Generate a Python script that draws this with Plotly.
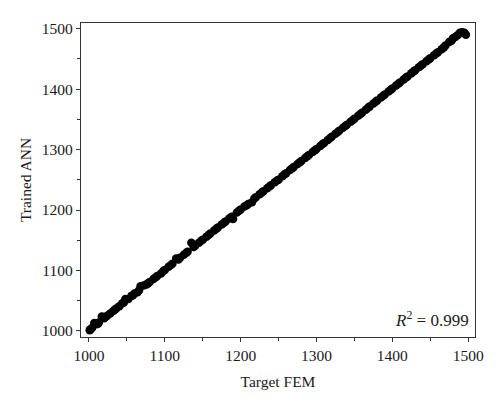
import plotly.graph_objects as go

target_fem = [1001,1004,1007,1010,1013,1017,1020,1024,1028,1032,1036,1040,1044,1048,1052,1056,1060,1064,1068,1072,
              1076,1080,1085,1090,1095,1100,1105,1110,1115,1120,1125,1130,1135,1140,1145,1150,1155,1160,1165,1170,
              1175,1180,1185,1190,1195,1200,1205,1210,1215,1220,1225,1230,1235,1240,1245,1250,1255,1260,1265,1270,
              1275,1280,1285,1290,1295,1300,1305,1310,1315,1320,1325,1330,1335,1340,1345,1350,1355,1360,1365,1370,
              1375,1380,1385,1390,1395,1400,1405,1410,1415,1420,1425,1430,1435,1440,1445,1450,1455,1460,1465,1470,
              1475,1480,1483,1486,1489,1492,1495,1497,
              1002,1012,1022,1034,1046,1058,1066,1078,1088,1098,1108,1118,1128,1138,1148,1158,1168,1178,1188,1198,
              1208,1218,1228,1238,1248,1258,1268,1278,1288,1298,1308,1318,1328,1338,1348,1358,1368,1378,1388,1398,
              1408,1418,1428,1438,1448,1458,1468,1478]
trained_ann = [1001,1005,1013,1011,1014,1024,1021,1025,1029,1033,1037,1041,1046,1053,1053,1058,1062,1064,1074,1075,
               1077,1081,1086,1091,1095,1101,1106,1111,1120,1121,1126,1131,1146,1141,1146,1151,1156,1161,1166,1171,
               1176,1181,1186,1185,1196,1201,1206,1210,1213,1221,1226,1231,1236,1241,1246,1250,1256,1261,1266,1271,
               1276,1281,1286,1291,1296,1301,1306,1311,1316,1321,1326,1331,1336,1341,1346,1351,1356,1361,1366,1371,
               1376,1381,1386,1391,1396,1401,1406,1411,1416,1421,1426,1431,1436,1441,1446,1451,1456,1461,1466,1472,
               1478,1484,1486,1489,1493,1494,1493,1490,
               1003,1012,1023,1035,1047,1059,1067,1079,1089,1099,1109,1118,1129,1139,1149,1159,1169,1179,1189,1199,
               1208,1219,1229,1239,1249,1259,1269,1279,1289,1299,1309,1319,1329,1339,1349,1359,1369,1379,1389,1399,
               1409,1419,1429,1439,1449,1459,1469,1480]
tick_vals = [1000, 1100, 1200, 1300, 1400, 1500]
r2_text = "<i>R</i><sup>2</sup> = 0.999"

font_family = "Liberation Serif, Times New Roman, serif"
ink = "#1a1a1a"

fig = go.Figure()
fig.add_trace(go.Scatter(
    x=target_fem, y=trained_ann, mode="markers",
    marker=dict(size=8.5, color="black", line=dict(width=0)),
    showlegend=False,
))

axis_common = dict(
    showline=True, linecolor="#333333", linewidth=1.2, mirror=True,
    ticks="outside", ticklen=4, tickwidth=1, tickcolor="#333333",
    minor=dict(ticks="outside", ticklen=3, dtick=50, tickcolor="#333333"),
    showgrid=False, zeroline=False,
    tickvals=tick_vals,
    tickfont=dict(family=font_family, size=15.5, color=ink),
)

fig.update_xaxes(range=[989.5, 1509], title=dict(text="Target FEM", standoff=13,
                 font=dict(family=font_family, size=15.5, color=ink)), **axis_common)
fig.update_yaxes(range=[990, 1509.3], title=dict(text="Trained ANN", standoff=6,
                 font=dict(family=font_family, size=15.5, color=ink)), **axis_common)

fig.add_annotation(text=r2_text, xref="paper", yref="paper", x=0.99, y=0.058,
                   xanchor="right", yanchor="middle", showarrow=False,
                   font=dict(family=font_family, size=17, color=ink))

fig.update_layout(
    width=500, height=407,
    margin=dict(l=73, r=33, t=12, b=78),
    paper_bgcolor="white", plot_bgcolor="white",
    font=dict(family=font_family, size=15.5, color=ink),
)

fig.write_html("out.html")
